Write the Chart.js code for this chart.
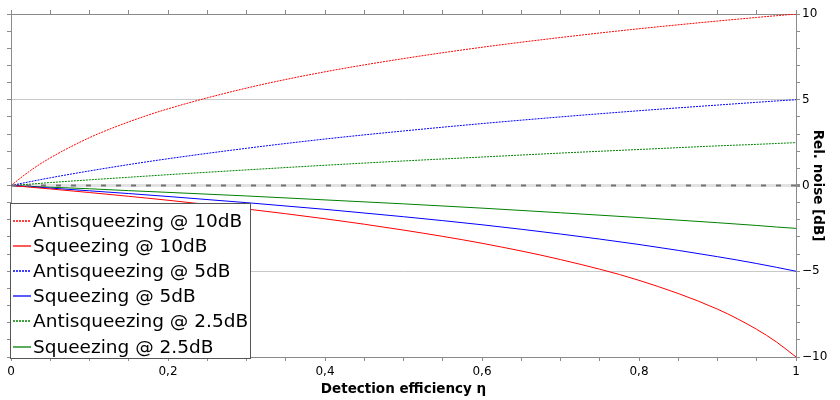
<!DOCTYPE html>
<html lang="en">
<head>
  <meta charset="UTF-8" />
  <title>Squeezing vs detection efficiency</title>
  <script src="https://cdn.jsdelivr.net/npm/chart.js"></script>
  <style>
    body { margin: 0; padding: 0; background: #fff; }
    #wrap { width: 840px; height: 400px; }
  </style>
</head>
<body>
  <div id="wrap"><canvas id="plot" width="840" height="400"></canvas></div>
  <script>
    // detection efficiency samples
    const eta = [0, 0.025, 0.05, 0.1, 0.15, 0.2, 0.3, 0.4, 0.5, 0.6, 0.7, 0.8, 0.9, 0.95, 0.975, 1];

    // relative noise in dB
    const anti10 = [0, 0.88, 1.61, 2.79, 3.71, 4.47, 5.68, 6.63, 7.40, 8.06, 8.63, 9.14, 9.59, 9.80, 9.90, 10];
    const sq10   = [0, -0.10, -0.20, -0.41, -0.63, -0.86, -1.37, -1.94, -2.60, -3.37, -4.32, -5.53, -7.21, -8.39, -9.12, -10];
    const anti5  = [0, 0.23, 0.45, 0.85, 1.22, 1.56, 2.17, 2.71, 3.18, 3.61, 4.00, 4.36, 4.69, 4.85, 4.93, 5];
    const sq5    = [0, -0.07, -0.15, -0.31, -0.47, -0.64, -1.00, -1.39, -1.82, -2.29, -2.83, -3.44, -4.15, -4.55, -4.77, -5];
    const anti25 = [0, 0.08, 0.17, 0.33, 0.48, 0.63, 0.91, 1.18, 1.43, 1.66, 1.89, 2.10, 2.31, 2.40, 2.45, 2.5];
    const sq25   = [0, -0.05, -0.10, -0.19, -0.30, -0.40, -0.61, -0.84, -1.07, -1.32, -1.59, -1.87, -2.17, -2.33, -2.42, -2.5];

    const zeroX = [0, 1];
    const zeroY = [0, 0];

    const xTickLabels = { 0: "0", 0.2: "0,2", 0.4: "0,4", 0.6: "0,6", 0.8: "0,8", 1: "1" };
    const yTickLabels = { 10: "10", 5: "5", 0: "0", "-5": "\u22125", "-10": "\u221210" };

    const RED = "#ff0000", BLUE = "#0000ff", GREEN = "#008000";
    const AXIS = "#8a8a8a";

    function pts(ys) { return ys.map((y, i) => ({ x: eta[i], y })); }

    function series(label, ys, color, dotted) {
      return {
        label, data: pts(ys), borderColor: color, borderWidth: 1,
        borderDash: dotted ? [2, 1] : [], pointRadius: 0, fill: false,
        cubicInterpolationMode: "monotone"
      };
    }

    const datasets = [
      series("Antisqueezing @ 10dB", anti10, RED, true),
      series("Squeezing @ 10dB", sq10, RED, false),
      series("Antisqueezing @ 5dB", anti5, BLUE, true),
      series("Squeezing @ 5dB", sq5, BLUE, false),
      series("Antisqueezing @ 2.5dB", anti25, GREEN, true),
      series("Squeezing @ 2.5dB", sq25, GREEN, false)
    ];
    datasets.unshift({
      label: "zero", data: zeroX.map((x, i) => ({ x, y: zeroY[i] })),
      borderColor: "#737373", borderWidth: 2, borderDash: [5, 10],
      pointRadius: 0, legend: false
    });

    // legend box drawn inside the plot, lower left
    const boxLegend = {
      id: "boxLegend",
      afterDatasetsDraw(chart) {
        const c = chart.ctx;
        const items = chart.data.datasets.filter(d => d.legend !== false);
        c.save();
        c.fillStyle = "#fff";
        c.fillRect(10.5, 203.5, 240, 155);
        c.strokeStyle = "#555";
        c.lineWidth = 1;
        c.strokeRect(10.5, 203.5, 240, 155);
        c.font = "18.5px 'DejaVu Sans'";
        c.textBaseline = "middle";
        items.forEach((d, i) => {
          const y = Math.round(221 + i * 25.1);
          c.strokeStyle = d.borderColor;
          c.lineWidth = 1.3;
          c.setLineDash(d.borderDash.length ? [2, 1] : []);
          c.beginPath();
          c.moveTo(13, y);
          c.lineTo(31, y);
          c.stroke();
          c.setLineDash([]);
          c.fillStyle = "#000";
          c.fillText(d.label, 33, y + 1.5);
        });
        c.restore();
      }
    };

    const tickFont = { family: "DejaVu Sans", size: 12 };
    const titleFont = { family: "DejaVu Sans", size: 13.5, weight: "bold" };

    new Chart(document.getElementById("plot"), {
      type: "line",
      data: { datasets },
      options: {
        responsive: false,
        animation: false,
        layout: { padding: 0 },
        plugins: { legend: { display: false }, tooltip: { enabled: false } },
        scales: {
          x: {
            type: "linear", position: "bottom", min: 0, max: 1,
            afterFit: s => { s.height = 43; },
            border: { color: AXIS },
            grid: { drawOnChartArea: false, tickLength: 4, tickColor: AXIS },
            ticks: {
              stepSize: 0.05, autoSkip: false, maxRotation: 0, color: "#000", font: tickFont, padding: 4,
              callback: v => xTickLabels[Math.round(v * 100) / 100] || ""
            },
            title: { display: true, text: "Detection efficiency \u03b7", color: "#000", font: titleFont, padding: { top: 2, bottom: 2 } }
          },
          x2: {
            type: "linear", position: "top", min: 0, max: 1,
            afterFit: s => { s.height = 14; },
            border: { color: AXIS },
            grid: { drawOnChartArea: false, tickLength: 4, tickColor: AXIS },
            ticks: { stepSize: 0.05, display: false }
          },
          y: {
            type: "linear", position: "right", min: -10, max: 10,
            afterFit: s => { s.width = 44; },
            border: { color: AXIS },
            grid: {
              drawOnChartArea: true, tickLength: 4, tickColor: AXIS,
              color: c => (c.tick && c.tick.value % 5 === 0 && Math.abs(c.tick.value) < 10) ? (c.tick.value === 0 ? "#e2e2e2" : "#c8c8c8") : "rgba(0,0,0,0)",
              lineWidth: c => (c.tick && c.tick.value === 0) ? 3 : 1
            },
            ticks: {
              stepSize: 1, autoSkip: false, color: "#000", font: tickFont, padding: 2,
              callback: v => yTickLabels[v] || ""
            },
            title: { display: true, text: "Rel. noise [dB]", color: "#000", font: titleFont, padding: { top: 14, bottom: 14 } }
          },
          y2: {
            type: "linear", position: "left", min: -10, max: 10,
            afterFit: s => { s.width = 11; },
            border: { color: AXIS },
            grid: { drawOnChartArea: false, tickLength: 4, tickColor: AXIS },
            ticks: { stepSize: 1, display: false }
          }
        }
      },
      plugins: [boxLegend]
    });
  </script>
</body>
</html>
